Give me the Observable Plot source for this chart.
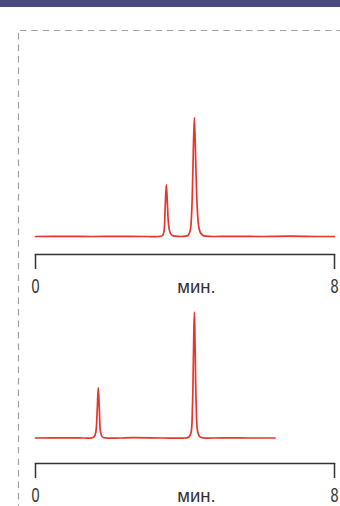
<!DOCTYPE html>
<html>
<head>
<meta charset="utf-8">
<script src="https://cdn.jsdelivr.net/npm/d3@7"></script>
<script src="https://cdn.jsdelivr.net/npm/@observablehq/plot@0.6"></script>
<style>
  html, body { margin: 0; padding: 0; background: #fff; }
  #wrap { position: relative; width: 340px; height: 506px; overflow: hidden; background: #fff; }
  #band { position: absolute; left: 0; top: 0; width: 340px; height: 7px; background: #4a4982; }
  #deco { position: absolute; left: 0; top: 0; }
  #top, #bottom { position: absolute; left: 0; }
  #top { top: 0; }
  #bottom { top: 300px; }
</style>
</head>
<body>
<div id="wrap">
  <div id="band"></div>
  <svg id="deco" width="340" height="506">
    <line x1="20" y1="30.5" x2="340" y2="30.5" stroke="#a0a0a0" stroke-width="1.2" stroke-dasharray="6.5 4.8"></line>
    <line x1="18.5" y1="33" x2="18.5" y2="506" stroke="#a0a0a0" stroke-width="1.2" stroke-dasharray="6.5 5"></line>
  </svg>
  <div id="top"></div>
  <div id="bottom"></div>
</div>
<script>
// Chromatogram A (upper): retention time (min) and detector signal
const topTime   = [0, 0.8, 1.5, 2.3, 3.0, 3.30, 3.40, 3.44, 3.47, 3.50, 3.53, 3.56, 3.60, 3.66, 3.75, 3.90, 4.00, 4.08, 4.14, 4.18, 4.21, 4.25, 4.29, 4.32, 4.36, 4.41, 4.48, 4.58, 4.75, 5.2, 6.0, 6.8, 7.5, 8.0];
const topSignal = [0, 0.2, 0, 0.2, 0, 0, 1, 6, 30, 52, 32, 12, 4, 1, 0.3, 0, 0.3, 1, 6, 25, 65, 119, 70, 35, 12, 4, 1, 0.3, 0, 0.2, 0, 0.3, 0, 0];
// Chromatogram B (lower)
const bottomTime   = [0, 0.8, 1.3, 1.50, 1.56, 1.61, 1.65, 1.68, 1.71, 1.74, 1.79, 1.88, 2.6, 3.4, 4.00, 4.10, 4.16, 4.20, 4.23, 4.25, 4.27, 4.30, 4.34, 4.40, 4.50, 5.0, 5.7, 6.41];
const bottomSignal = [0, 0.2, 0, 0, 0.8, 5, 27, 50.5, 27, 6, 1, 0, 0.3, 0, 0, 0.8, 5, 32, 92, 126, 92, 32, 6, 1.2, 0, 0.2, 0, 0];
// Axis
const xDomain = [0, 8];
const tickValues = [0, 8];
const tickLabels = ["0", "8"];
const unitLabel = "мин.";

const red = "#e8352b";
const ink = "#333333";

function chart({time, signal, height, marginTop, marginBottom, insetBottom}) {
  const data = time.map((t, i) => ({t, s: signal[i]}));
  const svg = Plot.plot({
    width: 340,
    height,
    marginLeft: 35,
    marginRight: 6,
    marginTop,
    marginBottom,
    style: {fontFamily: "'Liberation Sans', Arial, sans-serif", fontSize: "18px", background: "transparent"},
    x: {domain: xDomain},
    y: {domain: [0, 130], insetBottom, axis: null},
    marks: [
      Plot.frame({anchor: "bottom", stroke: ink, strokeWidth: 1.5}),
      Plot.axisX({
        ticks: tickValues,
        tickSize: 15,
        tickPadding: 9,
        tickFormat: (d) => tickLabels[tickValues.indexOf(d)],
        color: ink,
        strokeWidth: 1.5,
        fontSize: 20,
        className: "digits",
        label: null
      }),
      Plot.text([unitLabel], {
        text: (d) => d,
        frameAnchor: "bottom",
        dx: 11.5,
        dy: 38,
        lineAnchor: "bottom",
        fontSize: 18.5,
        fontFamily: "'Liberation Sans', Arial, sans-serif",
        fill: ink
      }),
      Plot.line(data, {x: "t", y: "s", stroke: red, strokeWidth: 1.7, curve: "catmull-rom"})
    ]
  });
  // condensed look for the tick digits
  svg.querySelectorAll(".digits text").forEach((t) => {
    const tr = t.getAttribute("transform") || "";
    t.setAttribute("transform", tr + " scale(0.72 1)");
  });
  return svg;
}

document.getElementById("top").append(chart({
  time: topTime, signal: topSignal, height: 300, marginTop: 106, marginBottom: 46, insetBottom: 18
}));
document.getElementById("bottom").append(chart({
  time: bottomTime, signal: bottomSignal, height: 206, marginTop: 7.5, marginBottom: 43, insetBottom: 25.5
}));
</script>
</body>
</html>
